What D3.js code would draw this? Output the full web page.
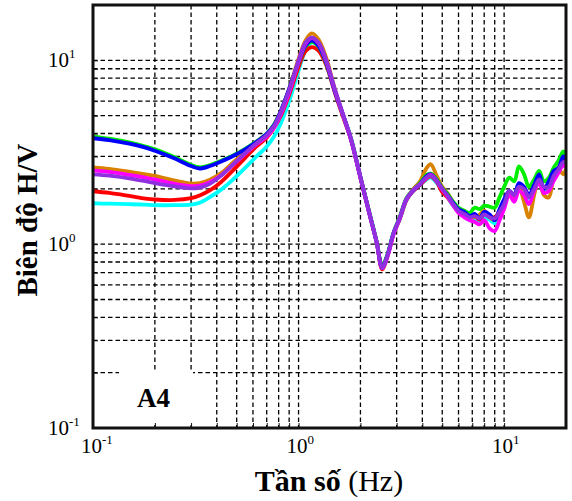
<!DOCTYPE html>
<html>
<head>
<meta charset="utf-8">
<script src="https://cdn.jsdelivr.net/npm/d3@7"></script>
<style>
  body { margin: 0; background: #fff; }
  text { font-family: 'Liberation Serif', 'Times New Roman', serif; }
</style>
</head>
<body>
<div id="chart-container"></div>
<script>
// frequencies (Hz) shared by all curves
const freqs = [
  0.1, 0.12, 0.15, 0.18, 0.2, 0.25, 0.3, 0.33, 0.37, 0.42, 0.48, 0.55, 0.62, 0.7, 0.76, 0.82,
  0.9, 1.0, 1.08, 1.16, 1.25, 1.36, 1.5, 1.65, 1.8, 2.0, 2.2, 2.4, 2.55, 2.7, 2.9,
  3.1, 3.35, 3.6, 3.9, 4.2, 4.4, 4.7, 5.0, 5.3, 5.6, 6.0, 6.4, 6.8, 7.2, 7.6, 8.0,
  8.5, 9.0, 9.5, 10.0, 10.6, 11.2, 11.8, 12.5, 13.2, 14.0, 14.8, 15.6, 16.5, 17.4, 18.4, 19.4, 20
];

// H/V amplitude for each record
const hvCyan = [
  1.67, 1.66, 1.65, 1.64, 1.63, 1.63, 1.64, 1.68, 1.80, 1.98, 2.25, 2.60, 2.98, 3.40, 3.85, 4.55,
  6.0, 8.8, 11.3, 12.5, 12.0, 9.8, 6.9, 5.0, 3.75, 2.32, 1.52, 1.03, 0.75, 0.87, 1.15,
  1.36, 1.73, 1.95, 2.10, 2.25, 2.30, 2.15, 1.95, 1.80, 1.64, 1.50, 1.42, 1.35, 1.38, 1.32, 1.40,
  1.36, 1.30, 1.48, 1.62, 1.88, 1.80, 2.00, 1.95, 1.78, 1.98, 2.20, 1.95, 2.05, 2.35, 2.50, 2.80, 2.70
];
const hvRed = [
  1.94, 1.90, 1.83, 1.77, 1.75, 1.74, 1.78, 1.84, 1.96, 2.18, 2.52, 2.95, 3.38, 3.80, 4.30, 5.00,
  6.5, 9.2, 11.2, 11.8, 11.3, 9.5, 6.7, 4.9, 3.7, 2.3, 1.5, 1.02, 0.73, 0.85, 1.14,
  1.37, 1.74, 1.94, 2.10, 2.28, 2.34, 2.18, 1.92, 1.80, 1.66, 1.50, 1.45, 1.40, 1.42, 1.36, 1.45,
  1.42, 1.40, 1.52, 1.68, 1.92, 1.85, 2.05, 2.00, 1.82, 2.02, 2.25, 2.00, 2.10, 2.40, 2.60, 2.85, 2.75
];
const hvOrange = [
  2.62, 2.57, 2.48, 2.40, 2.35, 2.22, 2.14, 2.15, 2.24, 2.44, 2.78, 3.18, 3.56, 3.95, 4.45, 5.30,
  7.0, 10.2, 12.8, 14.0, 13.0, 10.4, 7.0, 5.0, 3.7, 2.3, 1.5, 1.02, 0.75, 0.86, 1.14,
  1.36, 1.74, 1.98, 2.20, 2.60, 2.72, 2.35, 2.05, 1.90, 1.72, 1.55, 1.48, 1.42, 1.40, 1.45, 1.52,
  1.40, 1.35, 1.50, 1.62, 1.90, 1.75, 2.05, 1.70, 1.40, 1.85, 2.35, 1.85, 1.80, 2.30, 2.55, 2.40, 2.60
];
const hvGreen = [
  3.85, 3.75, 3.58, 3.40, 3.28, 2.97, 2.70, 2.62, 2.69, 2.84, 3.04, 3.30, 3.60, 4.00, 4.48, 5.30,
  6.95, 9.7, 11.9, 12.6, 11.9, 9.7, 6.8, 5.0, 3.75, 2.32, 1.52, 1.03, 0.76, 0.87, 1.16,
  1.40, 1.78, 1.97, 2.15, 2.38, 2.42, 2.25, 2.02, 1.88, 1.72, 1.58, 1.52, 1.48, 1.58, 1.55, 1.62,
  1.60, 1.58, 1.80, 2.05, 2.30, 2.20, 2.65, 2.40, 2.05, 2.25, 2.50, 2.20, 2.30, 2.60, 2.85, 3.20, 3.00
];
const hvBlue = [
  3.77, 3.68, 3.52, 3.35, 3.22, 2.92, 2.66, 2.58, 2.66, 2.82, 3.02, 3.28, 3.58, 3.98, 4.45, 5.30,
  7.0, 9.8, 12.0, 12.8, 12.0, 9.8, 6.8, 5.0, 3.7, 2.3, 1.5, 1.02, 0.75, 0.86, 1.15,
  1.38, 1.76, 1.95, 2.12, 2.35, 2.40, 2.22, 2.00, 1.85, 1.70, 1.55, 1.50, 1.42, 1.46, 1.38, 1.50,
  1.45, 1.35, 1.55, 1.75, 1.95, 1.85, 2.15, 2.05, 1.85, 2.10, 2.40, 2.00, 2.20, 2.50, 2.60, 3.00, 2.90
];
const hvMagenta = [
  2.52, 2.47, 2.38, 2.30, 2.25, 2.13, 2.07, 2.08, 2.17, 2.37, 2.70, 3.10, 3.48, 3.85, 4.30, 5.10,
  6.7, 9.8, 12.3, 13.2, 12.4, 10.0, 6.9, 5.0, 3.7, 2.3, 1.5, 1.02, 0.74, 0.85, 1.13,
  1.37, 1.75, 1.96, 2.12, 2.30, 2.38, 2.20, 1.98, 1.82, 1.65, 1.48, 1.40, 1.35, 1.32, 1.28, 1.35,
  1.22, 1.18, 1.35, 1.55, 1.85, 1.70, 1.95, 1.85, 1.65, 1.95, 2.15, 1.90, 1.95, 2.20, 2.45, 2.70, 2.60
];
const hvPurple = [
  2.40, 2.36, 2.28, 2.20, 2.15, 2.06, 2.01, 2.03, 2.13, 2.36, 2.72, 3.13, 3.52, 3.92, 4.40, 5.25,
  6.9, 10.0, 12.5, 13.3, 12.5, 10.1, 7.0, 5.05, 3.75, 2.32, 1.5, 1.02, 0.74, 0.86, 1.15,
  1.38, 1.76, 1.95, 2.12, 2.32, 2.36, 2.20, 2.00, 1.84, 1.68, 1.52, 1.46, 1.40, 1.42, 1.38, 1.45,
  1.40, 1.38, 1.50, 1.65, 1.95, 1.85, 2.05, 2.00, 1.80, 2.00, 2.25, 2.05, 2.05, 2.35, 2.55, 2.80, 2.75
];

const seriesValues = [hvCyan, hvRed, hvOrange, hvGreen, hvBlue, hvMagenta, hvPurple];
const seriesColors = ['#00ffff', '#ff0000', '#d98200', '#00ee00', '#0000ff', '#ff00ff', '#9030e0'];

const majorTicks = [0.1, 1, 10];
const majorExponents = ['-1', '0', '1'];
const xTitleBold = 'Tần số';
const xTitleUnit = ' (Hz)';
const yTitle = 'Biên độ H/V';
const siteLabel = 'A4';

const chartWidth = 572;
const chartHeight = 501;
const plotLeft = 93;
const plotRight = 566;
const plotTop = 5;
const plotBottom = 428;

const drawChart = () => {
  const svg = d3
    .select('#chart-container')
    .append('svg')
    .attr('width', chartWidth)
    .attr('height', chartHeight);

  const xScale = d3.scaleLog().domain([0.1, 20]).range([plotLeft, plotRight]);
  const yScale = d3.scaleLog().domain([0.1, 20]).range([plotBottom, plotTop]);

  // dashed grid at every log tick
  const xGrid = xScale.ticks().filter((v) => v > 0.1 && v < 20);
  const yGrid = yScale.ticks().filter((v) => v > 0.1 && v < 20);

  const grid = svg.append('g').attr('class', 'grid');
  grid
    .selectAll('line.gx')
    .data(xGrid)
    .enter()
    .append('line')
    .attr('x1', (d) => xScale(d))
    .attr('x2', (d) => xScale(d))
    .attr('y1', plotTop)
    .attr('y2', plotBottom)
    .attr('stroke', '#000')
    .attr('stroke-width', 1.3)
    .attr('stroke-dasharray', '4.5,3');
  grid
    .selectAll('line.gy')
    .data(yGrid)
    .enter()
    .append('line')
    .attr('x1', plotLeft)
    .attr('x2', plotRight)
    .attr('y1', (d) => yScale(d))
    .attr('y2', (d) => yScale(d))
    .attr('stroke', '#000')
    .attr('stroke-width', 1.3)
    .attr('stroke-dasharray', '4.5,3');

  // white box behind the site label
  svg
    .append('rect')
    .attr('x', 119)
    .attr('y', 371)
    .attr('width', 74)
    .attr('height', 52)
    .attr('fill', '#fff');

  // inner ticks
  svg
    .append('g')
    .attr('transform', `translate(0,${plotBottom})`)
    .call(d3.axisBottom(xScale).tickSize(-5).tickFormat(''))
    .call((g) => g.select('.domain').remove())
    .selectAll('line')
    .attr('stroke', '#111');
  svg
    .append('g')
    .attr('transform', `translate(${plotLeft},0)`)
    .call(d3.axisLeft(yScale).tickSize(-5).tickFormat(''))
    .call((g) => g.select('.domain').remove())
    .selectAll('line')
    .attr('stroke', '#111');

  // curves
  svg
    .append('clipPath')
    .attr('id', 'plot-clip')
    .append('rect')
    .attr('x', plotLeft)
    .attr('y', plotTop)
    .attr('width', plotRight - plotLeft)
    .attr('height', plotBottom - plotTop);

  const line = d3
    .line()
    .x((d) => xScale(d[0]))
    .y((d) => yScale(d[1]))
    .curve(d3.curveCatmullRom.alpha(0.5));

  svg
    .append('g')
    .attr('clip-path', 'url(#plot-clip)')
    .selectAll('path')
    .data(seriesValues)
    .enter()
    .append('path')
    .attr('d', (vals) => line(freqs.map((f, i) => [f, vals[i]])))
    .attr('fill', 'none')
    .attr('stroke', (d, i) => seriesColors[i])
    .attr('stroke-width', 3.8)
    .attr('stroke-linejoin', 'round');

  // frame
  svg
    .append('rect')
    .attr('x', plotLeft)
    .attr('y', plotTop)
    .attr('width', plotRight - plotLeft)
    .attr('height', plotBottom - plotTop)
    .attr('fill', 'none')
    .attr('stroke', '#111')
    .attr('stroke-width', 3);

  // tick labels 10^n
  const xLab = svg
    .selectAll('text.xlab')
    .data(majorTicks)
    .enter()
    .append('text')
    .attr('x', (d) => xScale(d) - 12)
    .attr('y', 453)
    .attr('font-size', 21);
  xLab.append('tspan').text('10');
  xLab
    .append('tspan')
    .attr('dy', -9)
    .attr('font-size', 13)
    .text((d, i) => majorExponents[i]);

  const yLab = svg
    .selectAll('text.ylab')
    .data(majorTicks)
    .enter()
    .append('text')
    .attr('x', 48)
    .attr('y', (d) => yScale(d) + 7)
    .attr('font-size', 21);
  yLab.append('tspan').text('10');
  yLab
    .append('tspan')
    .attr('dy', -9)
    .attr('font-size', 13)
    .text((d, i) => majorExponents[i]);

  // titles
  const xt = svg
    .append('text')
    .attr('x', 329)
    .attr('y', 491)
    .attr('text-anchor', 'middle')
    .attr('font-size', 30);
  xt.append('tspan').attr('font-weight', 'bold').text(xTitleBold);
  xt.append('tspan').text(xTitleUnit);

  svg
    .append('text')
    .attr('transform', 'translate(37,220) rotate(-90)')
    .attr('text-anchor', 'middle')
    .attr('font-size', 29)
    .attr('font-weight', 'bold')
    .text(yTitle);

  svg
    .append('text')
    .attr('x', 137)
    .attr('y', 407)
    .attr('font-size', 27)
    .attr('font-weight', 'bold')
    .text(siteLabel);
};

drawChart();
</script>
</body>
</html>
